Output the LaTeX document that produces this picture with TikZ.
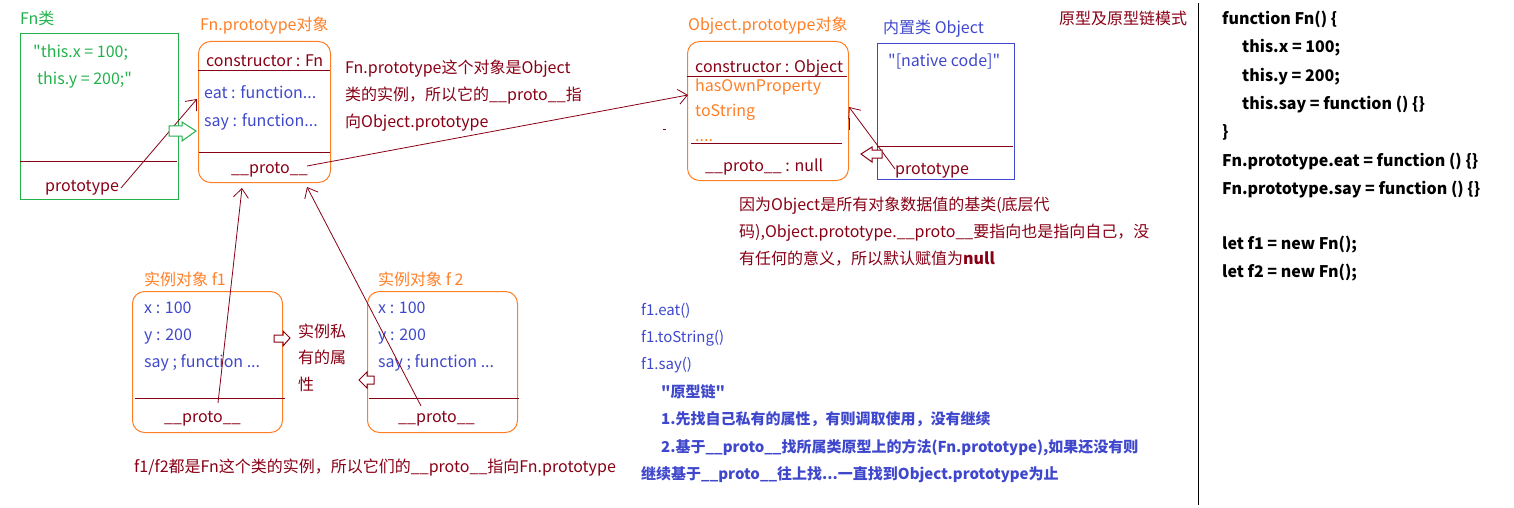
\documentclass[tikz,border=0pt]{standalone}
\usepackage{fontspec}
\setmainfont{Noto Sans CJK SC}[Ligatures=TeXOff]
\usetikzlibrary{arrows.meta,calc}
\definecolor{dred}{HTML}{880015}
\definecolor{org}{HTML}{FF7F27}
\definecolor{grn}{HTML}{22B14C}
\definecolor{blu}{HTML}{3F48CC}
\tikzset{
  txt/.style={anchor=base west,inner sep=0pt,font=\fontsize{16}{19}\selectfont},
  note/.style={txt,text=blu,font=\fontsize{15}{18}\selectfont},
  bnote/.style={txt,text=blu,font=\fontsize{15}{18}\selectfont\bfseries},
  boxn/.style={anchor=north west,inner sep=0pt,line width=1pt},
  rbox/.style={boxn,draw=org,rounded corners=12pt},
  divl/.style={draw=dred,line width=1pt},
  conn/.style={draw=dred,line width=0.8pt,-{Straight Barb[length=9pt,width=15pt,line width=0.8pt]}},
  hollow/.style={line width=1pt,fill=white},
}
\begin{document}
\begin{tikzpicture}[x=1pt,y=-1pt]
\useasboundingbox (0,0) rectangle (1514,508);

% ---- Fn class box
\node[txt,text=grn] (fnlbl) at (20,25) {Fn类};
\node[boxn,draw=grn,minimum width=158pt,minimum height=166pt] (fncls) at (20,33) {};
\draw[divl] (20,161) -- (177,161);
\node[txt,text=grn] (fnx) at (33,58) {"this.x = 100;};
\node[txt,text=grn] (fny) at (37,85) {this.y = 200;"};
\node[txt,text=dred] (fnp) at (45,191) {prototype};

% ---- Fn.prototype object
\node[txt,text=org] (fpl) at (200,31) {Fn.prototype对象};
\node[rbox,minimum width=132pt,minimum height=141pt] (fnproto) at (198,41) {};
\draw[divl] (198,71) -- (330,71);
\draw[divl] (199,152) -- (330,152);
\node[txt,text=dred] (fpc) at (206,67) {constructor : Fn};
\node[txt,text=blu] (fpe) at (204,99) {eat : function...};
\node[txt,text=blu] (fps) at (204,126) {say : function...};
\node[txt,text=dred] (fpp) at (231,173) {\_\_proto\_\_};

% ---- description
\node[txt,text=dred] (d1) at (345,74) {Fn.prototype这个对象是Object};
\node[txt,text=dred] (d2) at (345,101) {类的实例，所以它的\_\_proto\_\_指};
\node[txt,text=dred] (d3) at (345,128) {向Object.prototype};

% ---- Object.prototype object
\node[txt,text=org] (opl) at (688,31) {Object.prototype对象};
\node[rbox,minimum width=161pt,minimum height=139pt] (objproto) at (687,41) {};
\draw[divl] (687,77) -- (847,77);
\draw[divl] (691,143) -- (842,143);
\node[txt,text=dred] (opc) at (695,73) {constructor : Object};
\node[txt,text=org] (oph) at (695,92) {hasOwnProperty};
\node[txt,text=org] (opt) at (695,117) {toString};
\node[txt,text=org] (opd) at (695,141) {....};
\node[txt,text=dred] (opp) at (705,171) {\_\_proto\_\_ : null};

% ---- Object class
\node[txt,text=blu] (ocl) at (883,34) {内置类 Object};
\node[boxn,draw=blu,minimum width=137pt,minimum height=136pt] (objcls) at (877,43) {};
\draw[divl] (877,146) -- (1013,146);
\node[txt,text=blu] (ocn) at (888,67) {"[native code]"};
\node[txt,text=dred] (ocp) at (895,174) {prototype};

% ---- title
\node[txt,text=dred] (title) at (1059,25) {原型及原型链模式};

% ---- paragraph
\node[txt,text=dred] (q1) at (739,210) {因为Object是所有对象数据值的基类(底层代};
\node[txt,text=dred] (q2) at (739,237) {码),Object.prototype.\_\_proto\_\_要指向也是指向自己，没};
\node[txt,text=dred] (q3) at (739,264) {有任何的意义，所以默认赋值为\textbf{null}};

% ---- separator
\draw[line width=1pt] (1198,3) -- (1198,505);

% ---- code
\begin{scope}[every node/.style={txt,font=\fontsize{16}{19}\selectfont\bfseries}]
\node (c1) at (1222,25) {function Fn() \{};
\node (c2) at (1242,53) {this.x = 100;};
\node (c3) at (1242,82) {this.y = 200;};
\node (c4) at (1242,110) {this.say = function () \{\}};
\node (c5) at (1222,138) {\}};
\node (c6) at (1222,166) {Fn.prototype.eat = function () \{\}};
\node (c7) at (1222,194) {Fn.prototype.say = function () \{\}};
\node (c8) at (1222,249) {let f1 = new Fn();};
\node (c9) at (1222,277) {let f2 = new Fn();};
\end{scope}

% ---- instance f1
\node[txt,text=org] (f1l) at (144,285) {实例对象 f1};
\node[rbox,minimum width=150pt,minimum height=141pt] (f1box) at (132,291) {};
\draw[divl] (135,398) -- (285,398);
\node[txt,text=blu] (f1x) at (144,313) {x : 100};
\node[txt,text=blu] (f1y) at (144,340) {y : 200};
\node[txt,text=blu] (f1s) at (144,367) {say ; function ...};
\node[txt,text=dred] (f1p) at (164,422) {\_\_proto\_\_};

% ---- instance f2
\node[txt,text=org] (f2l) at (378,285) {实例对象 f 2};
\node[rbox,minimum width=150pt,minimum height=141pt] (f2box) at (367,291) {};
\draw[divl] (369,398) -- (519,398);
\node[txt,text=blu] (f2x) at (378,313) {x : 100};
\node[txt,text=blu] (f2y) at (378,340) {y : 200};
\node[txt,text=blu] (f2s) at (378,367) {say ; function ...};
\node[txt,text=dred] (f2p) at (398,422) {\_\_proto\_\_};

% ---- private attrs label
\node[txt,text=dred] (pv1) at (298,337) {实例私};
\node[txt,text=dred] (pv2) at (298,363) {有的属};
\node[txt,text=dred] (pv3) at (298,390) {性};

% ---- footer
\node[txt,text=dred] (foot) at (134,472) {f1/f2都是Fn这个类的实例，所以它们的\_\_proto\_\_指向Fn.prototype};

% ---- blue notes
\node[note] (b1) at (641,315) {f1.eat()};
\node[note] (b2) at (641,342) {f1.toString()};
\node[note] (b3) at (641,369) {f1.say()};
\node[bnote] (b4) at (661,397) {"原型链"};
\node[bnote] (b5) at (661,424) {1.先找自己私有的属性，有则调取使用，没有继续};
\node[bnote] (b6) at (661,452) {2.基于\_\_proto\_\_找所属类原型上的方法(Fn.prototype),如果还没有则};
\node[bnote] (b7) at (641,479) {继续基于\_\_proto\_\_往上找...一直找到Object.prototype为止};

% ---- connectors
\coordinate (a1s) at (121,188);
\coordinate (a1e) at (197,99);
\draw[conn] (a1s) -- (a1e);
\coordinate (a2s) at (307,166);
\coordinate (a2e) at (688,95);
\draw[conn] (a2s) -- (a2e);
\coordinate (a3s) at (895,169);
\coordinate (a3e) at (849,107);
\draw[conn] (a3s) -- (a3e);
\coordinate (a4s) at (218,403);
\coordinate (a4e) at (242,188);
\draw[conn] (a4s) -- (a4e);
\coordinate (a5s) at (421,406);
\coordinate (a5e) at (307,187);
\draw[conn] (a5s) -- (a5e);

% ---- hollow block arrows
\draw[hollow,draw=grn] (169,126) -- (182,126) -- (182,122) -- (196,131) -- (182,141) -- (182,136) -- (169,136) -- cycle;
\draw[hollow,draw=dred] (882,150) -- (872,150) -- (872,147) -- (861,154) -- (872,162) -- (872,158) -- (882,158) -- cycle;
\draw[hollow,draw=dred] (274,335) -- (283,335) -- (283,331) -- (290,338) -- (283,346) -- (283,342) -- (274,342) -- cycle;
\draw[hollow,draw=dred] (374,376) -- (367,376) -- (367,372) -- (359,380) -- (367,388) -- (367,384) -- (374,384) -- cycle;

% ---- stray marks
\draw[dred,line width=1pt] (663,130) -- (666,130);
\draw[dred,line width=1pt] (849,118) -- (849,130);
\end{tikzpicture}
\end{document}
